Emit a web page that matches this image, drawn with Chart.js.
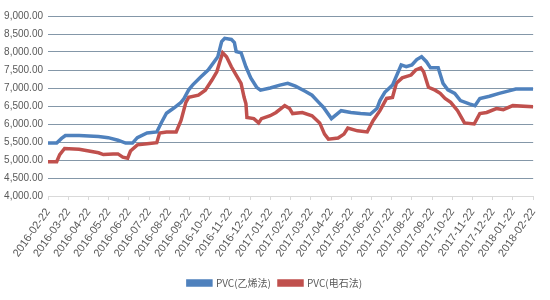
<!DOCTYPE html>
<html lang="zh">
<head>
  <meta charset="UTF-8">
  <title>PVC价格</title>
  <script src="https://cdn.jsdelivr.net/npm/chart.js"></script>
  <style>
    html, body { margin: 0; padding: 0; background: #fff; }
    #wrap { width: 550px; height: 300px; }
  </style>
</head>
<body>
  <div id="wrap"><canvas id="pvcChart"></canvas></div>

  <script>
    // month labels on the x axis (one per month, index 0..24)
    const monthLabels = [
      "2016-02-22", "2016-03-22", "2016-04-22", "2016-05-22", "2016-06-22",
      "2016-07-22", "2016-08-22", "2016-09-22", "2016-10-22", "2016-11-22",
      "2016-12-22", "2017-01-22", "2017-02-22", "2017-03-22", "2017-04-22",
      "2017-05-22", "2017-06-22", "2017-07-22", "2017-08-22", "2017-09-22",
      "2017-10-22", "2017-11-22", "2017-12-22", "2018-01-22", "2018-02-22"
    ];

    // PVC(乙烯法): position in months since 2016-02-22, price
    const ethyleneMonths = [0, 0.43, 0.67, 0.86, 1.54, 2.50, 2.98, 3.46, 3.84, 4.18, 4.42, 4.90, 5.38, 5.62, 5.86, 6.24, 6.58, 6.72, 6.96, 7.15, 7.54, 7.92, 8.40, 8.59, 8.74, 9.07, 9.22, 9.31, 9.55, 9.79, 10.03, 10.32, 10.51, 10.99, 11.47, 11.86, 12.24, 12.72, 13.06, 13.39, 13.63, 14.02, 14.50, 14.98, 15.46, 15.94, 16.27, 16.42, 16.66, 17.04, 17.47, 17.72, 18.00, 18.24, 18.48, 18.72, 18.92, 19.30, 19.54, 19.78, 20.12, 20.40, 20.84, 21.12, 21.36, 21.84, 22.32, 22.80, 23.14, 24];
    const ethylenePrice = [5470, 5470, 5600, 5680, 5680, 5650, 5620, 5550, 5470, 5470, 5620, 5750, 5780, 6050, 6300, 6450, 6600, 6700, 6950, 7080, 7300, 7500, 7870, 8290, 8380, 8350, 8260, 8010, 7980, 7590, 7280, 7020, 6940, 7000, 7080, 7130, 7050, 6910, 6800, 6600, 6460, 6150, 6370, 6320, 6290, 6270, 6430, 6650, 6880, 7080, 7640, 7590, 7640, 7790, 7870, 7730, 7560, 7560, 7130, 6950, 6850, 6650, 6560, 6510, 6710, 6770, 6850, 6920, 6970, 6970];

    // PVC(电石法)
    const carbideMonths = [0, 0.43, 0.58, 0.82, 1.54, 2.02, 2.50, 2.74, 3.22, 3.46, 3.70, 3.94, 4.08, 4.42, 4.90, 5.38, 5.52, 5.86, 6.34, 6.58, 6.82, 6.96, 7.44, 7.78, 8.11, 8.35, 8.50, 8.64, 8.83, 9.07, 9.31, 9.55, 9.70, 9.79, 9.84, 10.18, 10.42, 10.56, 10.99, 11.28, 11.71, 11.95, 12.10, 12.58, 13.06, 13.44, 13.68, 13.87, 14.35, 14.64, 14.83, 15.31, 15.79, 16.08, 16.42, 16.75, 17.04, 17.23, 17.52, 17.96, 18.19, 18.44, 18.58, 18.82, 19.15, 19.40, 19.64, 19.92, 20.26, 20.60, 21.08, 21.36, 21.70, 22.18, 22.52, 22.99, 24];
    const carbidePrice = [4950, 4950, 5150, 5320, 5300, 5250, 5200, 5150, 5170, 5170, 5080, 5050, 5250, 5420, 5450, 5480, 5750, 5780, 5780, 6100, 6600, 6740, 6800, 6940, 7220, 7450, 7730, 7980, 7870, 7590, 7360, 7130, 6740, 6570, 6180, 6150, 6030, 6150, 6230, 6320, 6510, 6430, 6290, 6320, 6230, 6030, 5720, 5580, 5610, 5720, 5890, 5810, 5780, 6090, 6370, 6710, 6740, 7130, 7280, 7360, 7500, 7560, 7450, 7020, 6940, 6850, 6710, 6600, 6370, 6030, 6000, 6290, 6320, 6430, 6400, 6510, 6480];

    const toPoints = (xs, ys) => xs.map((x, i) => ({ x: x, y: ys[i] }));

    const ctx = document.getElementById("pvcChart").getContext("2d");

    new Chart(ctx, {
      type: "line",
      data: {
        datasets: [
          {
            label: "PVC(乙烯法)",
            data: toPoints(ethyleneMonths, ethylenePrice),
            borderColor: "#4f81bd",
            backgroundColor: "#4f81bd",
            borderWidth: 3.5,
            pointRadius: 0,
            tension: 0,
            fill: false
          },
          {
            label: "PVC(电石法)",
            data: toPoints(carbideMonths, carbidePrice),
            borderColor: "#c0504d",
            backgroundColor: "#c0504d",
            borderWidth: 3.5,
            pointRadius: 0,
            tension: 0,
            fill: false
          }
        ]
      },
      options: {
        responsive: true,
        maintainAspectRatio: false,
        animation: false,
        layout: { padding: { left: 2, right: 2, top: 16, bottom: 2 } },
        plugins: {
          tooltip: { enabled: false },
          legend: {
            position: "bottom",
            labels: {
              boxWidth: 23,
              boxHeight: 4,
              color: "#595959",
              font: { family: "'Noto Sans CJK SC', 'Noto Sans', sans-serif", size: 10 },
              padding: 8
            }
          }
        },
        scales: {
          x: {
            type: "linear",
            min: 0,
            max: 24,
            afterFit: (s) => { s.height = 74; },
            ticks: {
              stepSize: 1,
              autoSkip: false,
              maxRotation: 55,
              minRotation: 55,
              padding: 6,
              color: "#595959",
              font: { family: "'Liberation Sans', sans-serif", size: 11 },
              callback: (v) => monthLabels[v]
            },
            grid: {
              drawOnChartArea: false,
              drawTicks: true,
              tickLength: 4,
              color: "#d9d9d9"
            },
            border: { color: "#d9d9d9" }
          },
          y: {
            min: 4000,
            max: 9000,
            afterFit: (s) => { s.width = 46; },
            ticks: {
              stepSize: 500,
              padding: 5,
              color: "#595959",
              font: { family: "'Liberation Sans', sans-serif", size: 10 },
              callback: (v) => v.toLocaleString("en-US", { minimumFractionDigits: 2, maximumFractionDigits: 2 })
            },
            grid: {
              color: (c) => c.index === 0 ? "#d9d9d9" : "#8497a8",
              drawTicks: false
            },
            border: { display: false }
          }
        }
      }
    });
  </script>
</body>
</html>
